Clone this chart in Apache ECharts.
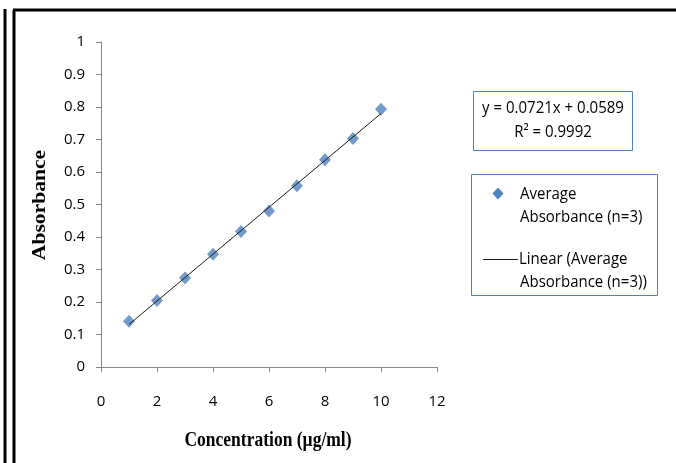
<!DOCTYPE html>
<html>
<head>
<meta charset="utf-8">
<title>Calibration curve</title>
<script src="https://cdn.jsdelivr.net/npm/echarts@6/dist/echarts.min.js"></script>
<style>
  html, body { margin: 0; padding: 0; background: #fff; }
  #chart { width: 676px; height: 463px; }
</style>
</head>
<body>
<div id="chart"></div>
<script>
// Concentration (µg/ml) and mean absorbance of three replicates
const concentrations = [1, 2, 3, 4, 5, 6, 7, 8, 9, 10];
const absorbances = [0.141, 0.205, 0.274, 0.347, 0.417, 0.480, 0.558, 0.638, 0.703, 0.793];

// Least-squares fit reported on the chart
const fitSlope = 0.0721;
const fitIntercept = 0.0589;
const fitR2 = 0.9992;

// Axis ticks
const xTicks = [0, 2, 4, 6, 8, 10, 12];
const yTicks = [0, 0.1, 0.2, 0.3, 0.4, 0.5, 0.6, 0.7, 0.8, 0.9, 1];

const seriesName = 'Average Absorbance (n=3)';
const trendName = 'Linear (Average Absorbance (n=3))';

const points = concentrations.map((c, i) => [c, absorbances[i]]);
const xFirst = concentrations[0];
const xLast = concentrations[concentrations.length - 1];
const trendPoints = [xFirst, xLast].map(x => [x, fitSlope * x + fitIntercept]);

const tickFont = '"Open Sans", Lato, sans-serif';
const tickSize = 15;
const titleFont = '"Liberation Serif", "DejaVu Serif", serif';
const blue = '#4F81BD';
const axisGrey = '#868686';

const chart = echarts.init(document.getElementById('chart'), null, { renderer: 'canvas' });

function txt(text, x, y, align) {
  const a = align || 'left';
  return {
    type: 'text',
    x: x, y: y,
    scaleY: 1.08,
    style: {
      text: text,
      fill: '#000',
      font: tickSize + 'px ' + tickFont,
      align: a, verticalAlign: 'middle',
      textAlign: a, textVerticalAlign: 'middle'
    }
  };
}

const eqText = 'y = ' + fitSlope + 'x + ' + fitIntercept;
const r2Text = 'R\u00B2 = ' + fitR2;

chart.setOption({
  animation: false,
  backgroundColor: '#fff',
  grid: { left: 101, right: 239, top: 42, bottom: 96 },
  xAxis: {
    type: 'value',
    min: xTicks[0], max: xTicks[xTicks.length - 1], interval: 2,
    splitLine: { show: false },
    axisLine: { show: true, onZero: false, lineStyle: { color: axisGrey, width: 1 } },
    axisTick: { show: true, length: 5, lineStyle: { color: axisGrey } },
    axisLabel: { color: '#000', fontFamily: tickFont, fontSize: tickSize, margin: 27 }
  },
  yAxis: {
    type: 'value',
    min: yTicks[0], max: yTicks[yTicks.length - 1], interval: 0.1,
    splitLine: { show: false },
    axisLine: { show: true, onZero: false, lineStyle: { color: axisGrey, width: 1 } },
    axisTick: { show: true, length: 5, lineStyle: { color: axisGrey } },
    axisLabel: {
      color: '#000', fontFamily: tickFont, fontSize: tickSize, margin: 16,
      formatter: v => String(+v.toFixed(1))
    }
  },
  series: [
    {
      name: seriesName,
      type: 'scatter',
      data: points,
      symbol: 'diamond',
      symbolSize: [12, 13],
      itemStyle: { color: blue },
      emphasis: { disabled: true },
      z: 2
    },
    {
      name: trendName,
      type: 'line',
      data: trendPoints,
      showSymbol: false,
      symbol: 'none',
      lineStyle: { color: '#1a1a1a', width: 1 },
      emphasis: { disabled: true },
      z: 3
    }
  ],
  graphic: [
    // page frame lines
    { type: 'line', shape: { x1: 5, y1: 9, x2: 5, y2: 463 }, style: { stroke: '#000', lineWidth: 3 } },
    { type: 'line', shape: { x1: 14, y1: 10, x2: 14, y2: 463 }, style: { stroke: '#000', lineWidth: 3 } },
    { type: 'line', shape: { x1: 13, y1: 10, x2: 676, y2: 10 }, style: { stroke: '#000', lineWidth: 3 } },

    // axis titles
    {
      type: 'text', x: 40, y: 205, rotation: Math.PI / 2, scaleX: 1.2,
      style: {
        text: 'Absorbance', fill: '#000', font: 'bold 18px ' + titleFont,
        align: 'center', verticalAlign: 'middle', textAlign: 'center', textVerticalAlign: 'middle'
      }
    },
    {
      type: 'text', x: 268, y: 441, scaleY: 1.2,
      style: {
        text: 'Concentration (\u00B5g/ml)', fill: '#000', font: 'bold 17.5px ' + titleFont,
        align: 'center', verticalAlign: 'middle', textAlign: 'center', textVerticalAlign: 'middle'
      }
    },

    // trendline equation box
    { type: 'rect', shape: { x: 473.5, y: 91.5, width: 159, height: 59 }, style: { fill: '#fff', stroke: blue, lineWidth: 1 } },
    txt(eqText, 553, 108, 'center'),
    txt(r2Text, 553, 132, 'center'),

    // legend box
    { type: 'rect', shape: { x: 471.5, y: 174.5, width: 186, height: 121 }, style: { fill: '#fff', stroke: blue, lineWidth: 1 } },
    {
      type: 'polygon',
      shape: { points: [[498, 187.5], [503.5, 193.5], [498, 199.5], [492.5, 193.5]] },
      style: { fill: blue }
    },
    txt('Average', 520, 194),
    txt('Absorbance (n=3)', 520, 217),
    { type: 'line', shape: { x1: 483, y1: 259.5, x2: 518, y2: 259.5 }, style: { stroke: '#1a1a1a', lineWidth: 1 } },
    txt('Linear (Average', 519, 259),
    txt('Absorbance (n=3))', 520, 282)
  ]
});
</script>
</body>
</html>
